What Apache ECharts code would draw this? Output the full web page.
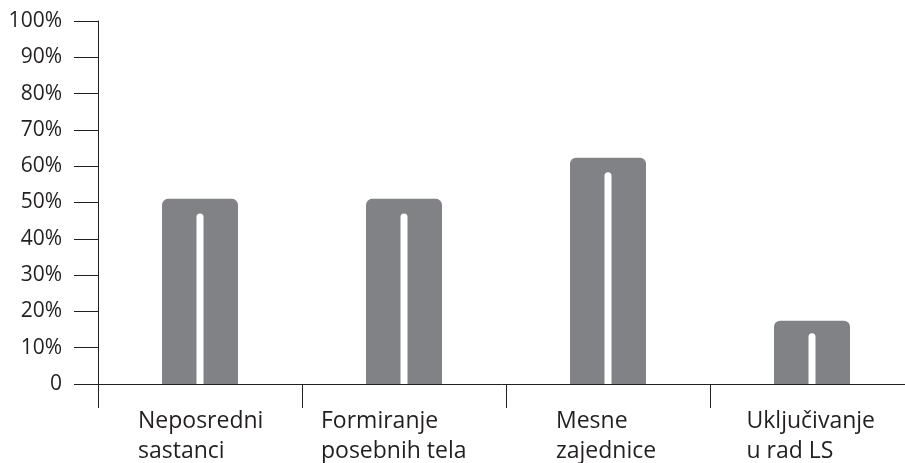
<!DOCTYPE html>
<html>
<head>
<meta charset="utf-8">
<script src="https://cdn.jsdelivr.net/npm/echarts@6/dist/echarts.min.js"></script>
<style>
  html, body { margin: 0; padding: 0; background: #ffffff; }
  #chart { width: 905px; height: 463px; }
</style>
</head>
<body>
<div id="chart"></div>
<script>
// Forms of participation (two-line category labels)
const categories = [
  ['Neposredni', 'sastanci'],
  ['Formiranje', 'posebnih tela'],
  ['Mesne', 'zajednice'],
  ['Uključivanje', 'u rad LS']
];
// Share of respondents, %
const shareValues = [51, 51, 62.3, 17.4];
// Height of the white inner stripe, %
const stripeValues = [47, 47, 58.3, 14];
// Y axis tick labels, 0..100 step 10
const yTickLabels = ['0', '10%', '20%', '30%', '40%', '50%', '60%', '70%', '80%', '90%', '100%'];

// Width of each label block (lines are left-aligned inside it)
const labelBlockWidths = [124, 166, 104, 131];

const ink = '#231f20';
const font = 'Open Sans';

const categoryKeys = categories.map(c => c.join(' '));

const rich = {};
labelBlockWidths.forEach((w, i) => {
  rich['c' + i] = { width: w, align: 'left', fontFamily: font, fontSize: 23, lineHeight: 30, color: ink };
});

const chart = echarts.init(document.getElementById('chart'), null, { renderer: 'canvas' });
chart.setOption({
  animation: false,
  backgroundColor: '#ffffff',
  // the last category runs slightly past the right edge of the canvas
  grid: { left: 98, width: 816, top: 21, bottom: 79, containLabel: false, outerBoundsMode: 'none' },
  xAxis: [
    {
      type: 'category',
      data: categoryKeys,
      z: 10,
      axisLine: { show: true, lineStyle: { color: ink, width: 1 } },
      axisTick: { show: true, length: 24, lineStyle: { color: ink, width: 1 } },
      axisLabel: {
        interval: 0,
        margin: 22,
        align: 'center',
        formatter: function (value, idx) {
          const lines = categories[idx];
          return lines.map(l => '{c' + idx + '|' + l + '}').join('\n');
        },
        rich: rich
      },
      splitLine: { show: false }
    },
    {
      type: 'category',
      data: categoryKeys,
      show: false
    }
  ],
  yAxis: {
    type: 'value',
    min: 0,
    max: 100,
    interval: 10,
    z: 10,
    axisLine: { show: true, lineStyle: { color: ink, width: 1 } },
    axisTick: { show: true, length: 24, lineStyle: { color: ink, width: 1 } },
    axisLabel: {
      margin: 36,
      fontFamily: font,
      fontSize: 21,
      color: ink,
      formatter: function (v) { return yTickLabels[Math.round(v / 10)]; }
    },
    splitLine: { show: false }
  },
  series: [
    {
      type: 'bar',
      xAxisIndex: 0,
      data: shareValues,
      barWidth: 76,
      itemStyle: { color: '#808285', borderRadius: [6, 6, 0, 0] },
      silent: true
    },
    {
      type: 'bar',
      xAxisIndex: 1,
      data: stripeValues,
      barWidth: 7,
      itemStyle: { color: '#ffffff', borderRadius: [3.5, 3.5, 0, 0] },
      silent: true
    }
  ]
});
</script>
</body>
</html>
